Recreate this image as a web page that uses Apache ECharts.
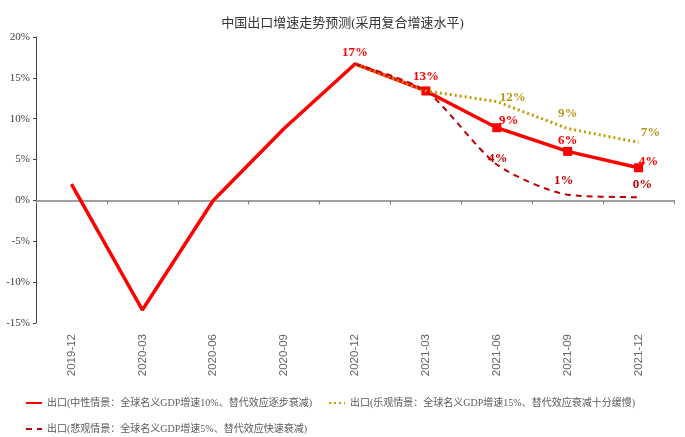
<!DOCTYPE html>
<html>
<head>
<meta charset="utf-8">
<script src="https://cdn.jsdelivr.net/npm/echarts@6/dist/echarts.min.js"></script>
<style>
  html, body { margin: 0; padding: 0; background: #fff; }
  #chart { width: 685px; height: 437px; }
</style>
</head>
<body>
<div id="chart"></div>
<script>
// Quarterly export growth (%), history plus three forecast scenarios
const categories = ['2019-12', '2020-03', '2020-06', '2020-09', '2020-12', '2021-03', '2021-06', '2021-09', '2021-12'];
const neutralValues = [2.0, -13.4, 0.0, 8.8, 16.7, 13.4, 8.9, 6.0, 4.0];
const optimisticValues = [null, null, null, null, 16.7, 13.4, 12.1, 8.8, 7.1];
const pessimisticValues = [null, null, null, null, 16.7, 13.4, 4.4, 0.7, 0.4];
const seriesNames = [
  '出口(中性情景：全球名义GDP增速10%、替代效应逐步衰减)',
  '出口(乐观情景：全球名义GDP增速15%、替代效应衰减十分缓慢)',
  '出口(悲观情景：全球名义GDP增速5%、替代效应快速衰减)'
];
const yTicks = { min: -15, max: 20, step: 5 };

const SERIF = '"Liberation Serif", "Noto Sans CJK SC", serif';
const RED = '#FF0000', GOLD = '#C49A00', DARKRED = '#C00000';

// label offsets [dx, dy] for the labelled points, keyed by category index
const neutralLabelAt = { 4: [0, 1], 5: [0, 2], 6: [12, 9], 7: [0, 5], 8: [10, 10] };
const optimisticLabelAt = { 6: [16, 8], 7: [0, -3], 8: [12, 2] };
const pessimisticLabelAt = { 6: [1, 6], 7: [-4, -2], 8: [4, -1] };

function pct(p) { return Math.round(p.value) + '%'; }

function buildData(values, labelAt, color, markerFrom) {
  return values.map((v, i) => {
    if (v === null) return null;
    const item = { value: v };
    const marker = markerFrom !== null && i >= markerFrom;
    if (marker) {
      item.symbol = 'rect';
      item.symbolSize = 9;
    } else if (labelAt[i]) {
      // invisible anchor so the value label still renders
      item.symbol = 'circle';
      item.symbolSize = 1;
      item.itemStyle = { color: 'rgba(0,0,0,0)' };
    }
    if (labelAt[i]) {
      item.label = {
        show: true, position: 'top', offset: labelAt[i], distance: 5,
        color: color, fontFamily: SERIF, fontWeight: 'bold', fontSize: 13,
        formatter: pct
      };
    }
    return item;
  });
}

const chart = echarts.init(document.getElementById('chart'));
chart.setOption({
  animation: false,
  backgroundColor: '#ffffff',
  title: {
    text: '中国出口增速走势预测(采用复合增速水平)',
    left: 'center', top: 12,
    textStyle: { fontFamily: SERIF, fontSize: 13, fontWeight: 'normal', color: '#333' }
  },
  grid: { left: 36, right: 11, top: 37, bottom: 114 },
  legend: {
    left: 20, top: 393, width: 660,
    itemWidth: 16, itemHeight: 10, itemGap: 16,
    itemStyle: { opacity: 0 },
    textStyle: { fontFamily: SERIF, fontSize: 10, color: '#595959' },
    data: seriesNames
  },
  xAxis: [
    {
      type: 'category', data: categories, boundaryGap: true,
      axisLine: { onZero: true, lineStyle: { color: '#808080', width: 1.5 } },
      axisTick: { show: true, length: 4, lineStyle: { color: '#808080' } },
      axisLabel: { show: false }
    },
    {
      type: 'category', data: categories, boundaryGap: true, position: 'bottom',
      axisLine: { show: false }, axisTick: { show: false },
      axisLabel: {
        rotate: 90, margin: 11, color: '#666',
        fontFamily: '"Liberation Sans", Arial, sans-serif', fontSize: 11.5
      }
    }
  ],
  yAxis: {
    type: 'value', min: yTicks.min, max: yTicks.max, interval: yTicks.step,
    axisLine: { show: true, lineStyle: { color: '#404040', width: 1 } },
    axisTick: { show: true, length: 3, lineStyle: { color: '#404040' } },
    splitLine: { show: false },
    axisLabel: { formatter: '{value}%', color: '#404040', fontFamily: SERIF, fontSize: 11, margin: 6 }
  },
  series: [
    {
      name: seriesNames[0], type: 'line', z: 3, symbol: 'none',
      data: buildData(neutralValues, neutralLabelAt, RED, 5),
      itemStyle: { color: RED },
      lineStyle: { color: RED, width: 3.5 }
    },
    {
      name: seriesNames[1], type: 'line', z: 4, symbol: 'none',
      data: buildData(optimisticValues, optimisticLabelAt, '#B8961A', null),
      itemStyle: { color: GOLD },
      lineStyle: { color: GOLD, width: 3, type: [2, 3] }
    },
    {
      name: seriesNames[2], type: 'line', z: 4, symbol: 'none', smooth: 0.25,
      data: buildData(pessimisticValues, pessimisticLabelAt, DARKRED, null),
      itemStyle: { color: DARKRED },
      lineStyle: { color: DARKRED, width: 2, type: [6, 5] }
    }
  ]
});
</script>
</body>
</html>
